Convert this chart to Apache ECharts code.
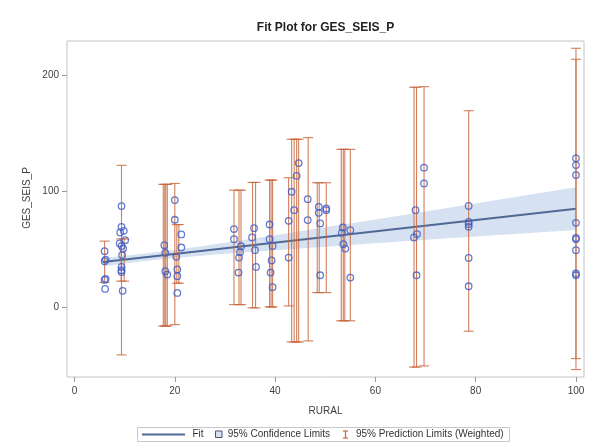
<!DOCTYPE html>
<html><head><meta charset="utf-8">
<script src="https://cdn.jsdelivr.net/npm/echarts@6/dist/echarts.min.js"></script>
<style>html,body{margin:0;padding:0;background:#fff}#c{width:591px;height:446px}</style>
</head><body><div id="c"></div>
<script>
// ---- data ----
const pointX = [6.0,6.2,6.0,6.2,6.0,6.1,
  9.37,9.37,9.83,9.1,10.1,9.0,9.4,9.7,9.5,9.37,9.37,9.37,9.6,
  17.9,18.1,18.1,18.5,
  20.0,20.0,21.3,21.3,20.3,20.5,20.5,20.5,
  31.8,31.8,33.2,33.0,32.8,32.7,
  35.8,35.4,36.0,36.2,
  38.9,38.9,39.5,39.3,39.1,39.5,
  42.7,42.7,43.3,43.8,44.3,44.7,46.5,46.5,
  48.7,48.7,49.0,49.0,50.2,50.2,
  53.5,53.3,53.6,54.0,55.0,55.0,
  68.0,67.7,68.3,68.2,69.7,69.7,
  78.6,78.6,78.6,78.6,78.6,78.6,
  100,100,100,100,100,100,100,100,100];
const pointY = [48.2,41.0,39.6,24.3,23.4,15.6,
  87.2,69.3,65.8,64.4,57.7,54.9,52.8,50.5,44.8,34.6,31.8,30.3,13.9,
  53.4,46.8,30.9,28.0,
  92.4,75.4,62.7,51.4,43.3,32.4,26.6,12.1,
  67.3,58.6,52.5,47.4,42.7,29.7,
  68.1,60.1,49.1,34.6,
  71.3,58.6,52.8,40.2,29.7,17.1,
  74.5,42.7,99.6,83.7,113.4,124.4,93.2,75.1,
  86.6,81.4,72.2,27.4,85.2,83.7,
  68.7,64.1,54.3,50.5,66.4,25.4,
  83.7,60.1,63.0,27.4,120.4,106.8,
  87.4,73.6,71.6,69.3,42.4,17.9,
  128.5,122.7,114.0,72.7,59.7,58.6,49.1,28.9,27.4];

// weighted 95% prediction limits (one bar per distinct limit)
const barX    = [6.0, 9.37, 9.3, 9.9, 17.7, 18.0, 18.2, 18.5, 20.0, 20.4, 20.8,
  31.8, 32.8, 33.2, 35.5, 36.1, 38.9, 39.2, 39.5,
  42.7, 43.3, 43.8, 44.3, 44.7, 46.6,
  48.4, 48.8, 50.2, 53.2, 53.6, 53.9, 55.0,
  67.7, 68.2, 69.7, 78.6, 100, 100];
const barLow  = [21.2, -41.5, 22.3, 22.3, -16.5, -16.5, -16.5, -16.5, -15.3, 20.5, 20.5,
  2.0, 2.0, 2.0, -0.8, -0.8, 0.0, 0.0, 0.0,
  0.9, -30.3, -30.3, -30.3, -30.3, -29.4,
  12.4, 12.4, 12.4, -12.0, -12.0, -12.0, -12.0,
  -52.0, -52.0, -51.0, -21.0, -44.7, -54.2];
const barHigh = [56.9, 122.5, 58.8, 58.8, 106.0, 106.0, 106.0, 106.0, 106.8, 71.2, 71.2,
  101.0, 101.0, 101.0, 107.7, 107.7, 109.7, 109.7, 109.7,
  111.7, 145.0, 145.0, 145.0, 145.0, 146.4,
  107.4, 107.4, 107.4, 136.3, 136.3, 136.3, 136.3,
  190.0, 190.0, 190.5, 169.7, 214.2, 223.7];

// fit line and 95% confidence band
const fitX = [5.7, 100];
const fitY = [38.8, 85.0];
const bandX     = [5.7, 10, 15, 20, 30, 40, 50, 60, 70, 80, 90, 100];
const bandUpper = [42.6, 44.3, 46.7, 49.3, 55.5, 62.1, 68.9, 75.7, 82.6, 89.5, 96.5, 103.5];
const bandLower = [35.0, 37.5, 40.1, 42.3, 45.9, 49.1, 52.1, 55.1, 58.0, 60.9, 63.7, 66.5];

const xTicks = [0, 20, 40, 60, 80, 100];
const yTicks = [0, 100, 200];

// ---- styles ----
const FONT = 'Liberation Sans, Arial, sans-serif';
const C_PT = '#3d5bc4', C_FIT = '#4f6996', C_BAND = '#d6e2f1', C_BAR = '#c9683f';

const chart = echarts.init(document.getElementById('c'), null, {renderer: 'canvas'});

const scatterData = pointX.map((x, i) => [x, pointY[i]]);
const barData = barX.map((x, i) => [x, barLow[i], barHigh[i]]);
const bandData = bandX.map((x, i) => [x, bandLower[i], bandUpper[i]]);
const fitData = fitX.map((x, i) => [x, fitY[i]]);

const axisCommon = {
  type: 'value',
  axisLine: {show: false, onZero: false},
  splitLine: {show: false},
  axisTick: {show: true, length: 5, lineStyle: {color: '#9a9a9a'}},
  axisLabel: {color: '#404040', fontSize: 10, fontFamily: FONT}
};

chart.setOption({
  animation: false,
  backgroundColor: '#fff',
  grid: {left: 67, top: 41, right: 7, bottom: 69, show: true, borderColor: '#c4c4c4', borderWidth: 1},
  xAxis: Object.assign({}, axisCommon, {
    min: -1.5, max: 101.6,
    axisTick: Object.assign({}, axisCommon.axisTick, {customValues: xTicks}),
    axisLabel: Object.assign({}, axisCommon.axisLabel, {customValues: xTicks, margin: 9}),
    name: 'RURAL', nameLocation: 'middle', nameGap: 29,
    nameTextStyle: {color: '#404040', fontSize: 10, fontFamily: FONT}
  }),
  yAxis: Object.assign({}, axisCommon, {
    min: -60.6, max: 230,
    axisTick: Object.assign({}, axisCommon.axisTick, {customValues: yTicks}),
    axisLabel: Object.assign({}, axisCommon.axisLabel, {customValues: yTicks, margin: 8})
  }),
  graphic: [
    {type: 'text', x: 325.5, y: 28, style: {text: 'Fit Plot for GES_SEIS_P', font: 'bold 12px ' + FONT, fill: '#222', align: 'center', verticalAlign: 'middle'}},
    {type: 'text', x: 27, y: 198, rotation: Math.PI / 2, style: {text: 'GES_SEIS_P', font: '10px ' + FONT, fill: '#404040', align: 'center', verticalAlign: 'middle'}},
    // legend
    {type: 'rect', shape: {x: 137.5, y: 427.5, width: 372, height: 14}, style: {fill: '#fff', stroke: '#c8c8c8', lineWidth: 1}},
    {type: 'line', shape: {x1: 142, y1: 434.5, x2: 185, y2: 434.5}, style: {stroke: C_FIT, lineWidth: 2}},
    {type: 'text', x: 192.5, y: 434.5, style: {text: 'Fit', font: '10px ' + FONT, fill: '#333', verticalAlign: 'middle'}},
    {type: 'rect', shape: {x: 215.5, y: 431, width: 6.5, height: 6.5}, style: {fill: C_BAND, stroke: '#4a5570', lineWidth: 1}},
    {type: 'text', x: 227.7, y: 434.5, style: {text: '95% Confidence Limits', font: '10px ' + FONT, fill: '#333', verticalAlign: 'middle'}},
    {type: 'line', shape: {x1: 345.5, y1: 431, x2: 345.5, y2: 438}, style: {stroke: C_BAR, lineWidth: 1.2}},
    {type: 'line', shape: {x1: 343, y1: 431, x2: 348, y2: 431}, style: {stroke: C_BAR, lineWidth: 1.2}},
    {type: 'line', shape: {x1: 343, y1: 438, x2: 348, y2: 438}, style: {stroke: C_BAR, lineWidth: 1.2}},
    {type: 'text', x: 356, y: 434.5, style: {text: '95% Prediction Limits (Weighted)', font: '10px ' + FONT, fill: '#333', verticalAlign: 'middle'}}
  ],
  series: [
    {
      name: '95% Confidence Limits', type: 'custom', clip: true, z: 1,
      data: bandData,
      encode: {x: 0, y: [1, 2]},
      renderItem: function (params, api) {
        if (params.dataIndex !== 0) return null;
        const up = bandData.map(d => api.coord([d[0], d[2]]));
        const lo = bandData.map(d => api.coord([d[0], d[1]])).reverse();
        return {type: 'polygon', shape: {points: up.concat(lo)}, style: {fill: C_BAND}};
      }
    },
    {
      name: 'Fit', type: 'line', data: fitData, z: 2, symbol: 'none',
      lineStyle: {color: C_FIT, width: 2}
    },
    {
      name: '95% Prediction Limits (Weighted)', type: 'custom', clip: true, z: 3,
      data: barData,
      encode: {x: 0, y: [1, 2]},
      renderItem: function (params, api) {
        const x = api.value(0);
        const top = api.coord([x, api.value(2)]);
        const bot = api.coord([x, api.value(1)]);
        const hw = 5;
        const st = {stroke: C_BAR, lineWidth: 1.1, opacity: 0.85};
        return {type: 'group', children: [
          {type: 'line', shape: {x1: top[0], y1: top[1], x2: bot[0], y2: bot[1]}, style: st},
          {type: 'line', shape: {x1: top[0] - hw, y1: top[1], x2: top[0] + hw, y2: top[1]}, style: st},
          {type: 'line', shape: {x1: bot[0] - hw, y1: bot[1], x2: bot[0] + hw, y2: bot[1]}, style: st}
        ]};
      }
    },
    {
      name: 'GES_SEIS_P', type: 'scatter', data: scatterData, z: 4,
      symbol: 'circle', symbolSize: 6.5,
      itemStyle: {color: 'rgba(0,0,0,0)', borderColor: C_PT, borderWidth: 1.3}
    }
  ]
});
</script>
</body></html>
